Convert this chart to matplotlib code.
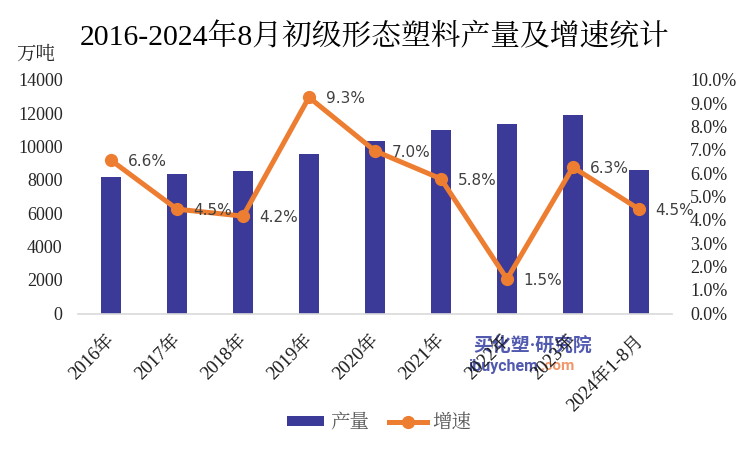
#!/usr/bin/env python3
"""2016-2024年8月 初级形态塑料 产量及增速"""
import matplotlib
matplotlib.use("Agg")
import matplotlib.pyplot as plt
from matplotlib.transforms import ScaledTranslation

SERIF = ["Liberation Serif", "Noto Serif CJK SC", "Noto Sans CJK SC", "DejaVu Serif"]
plt.rcParams["font.family"] = SERIF

years = ["2016年", "2017年", "2018年", "2019年", "2020年", "2021年", "2022年", "2023年", "2024年1-8月"]
output = [8230, 8400, 8600, 9620, 10400, 11050, 11400, 11950, 8650]
growth = [6.6, 4.5, 4.2, 9.3, 7.0, 5.8, 1.5, 6.3, 4.5]
growth_labels = ["6.6%", "4.5%", "4.2%", "9.3%", "7.0%", "5.8%", "1.5%", "6.3%", "4.5%"]

BAR = "#3b3a98"
LINE = "#ed7d31"
TXT = "#404040"

fig = plt.figure(figsize=(7.49, 4.5), dpi=100)
ax = fig.add_axes([78 / 749, 1 - 314 / 450, (672 - 78) / 749, (314 - 81) / 450])
x = list(range(len(years)))
bars = ax.bar(x, output, width=0.31, color=BAR, label="产量")
ax.set_xlim(-0.5, 8.5)
ax.set_ylim(0, 14000)
ax.set_yticks(range(0, 14001, 2000))
ax.tick_params(axis="y", length=0, labelsize=13, labelcolor="#262626", pad=11)
ax.tick_params(axis="x", length=0, labelsize=13.5, labelcolor="#1a1a1a", pad=12)
ax.set_xticks(x)
ax.set_xticklabels(years, rotation=45, ha="right", rotation_mode="anchor")
# 标签整体往左下挪一点
shift = ScaledTranslation(-5 / 100, -1 / 100, fig.dpi_scale_trans)
for lab in ax.get_xticklabels():
    lab.set_transform(lab.get_transform() + shift)
for s in ["top", "left", "right"]:
    ax.spines[s].set_visible(False)
ax.spines["bottom"].set_color("#d9d9d9")
ax.spines["bottom"].set_linewidth(1.2)

ax2 = ax.twinx()
line, = ax2.plot(x, growth, color=LINE, lw=3.6, marker="o", ms=8.5, label="增速")
ax2.set_ylim(0, 10)
ax2.set_yticks(range(0, 11))
ax2.set_yticklabels([f"{v}.0%" for v in range(0, 11)])
ax2.tick_params(axis="y", length=0, labelsize=13, labelcolor="#262626", pad=13)
for s in ["top", "left", "right", "bottom"]:
    ax2.spines[s].set_visible(False)

# y 轴标签上移 1px
up = ScaledTranslation(0, 1 / 100, fig.dpi_scale_trans)
for lab in ax.get_yticklabels() + ax2.get_yticklabels():
    lab.set_transform(lab.get_transform() + up)

for xi, g, lab in zip(x, growth, growth_labels):
    ax2.annotate(lab, (xi, g), xytext=(12, -1), textcoords="offset points", family="DejaVu Sans",
                 fontsize=11, color=TXT, va="center", ha="left")

fig.text(375 / 749, 1 - 37 / 450, "2016-2024年8月初级形态塑料产量及增速统计",
         fontsize=21.4, color="black", ha="center", va="center", fontweight="medium")
fig.text(36 / 749, 1 - 55 / 450, "万吨", fontsize=14, color="#262626", ha="center", va="center")

# 水印, 压在 x 轴标签下面
WM = ["Roboto", "Noto Sans CJK SC"]
fig.text(473 / 749, 1 - 345 / 450, "买化塑·研究院", fontsize=13.6, color="#3f48a8", alpha=0.9,
         ha="left", va="center", style="italic", fontweight="bold", family=WM, zorder=-1)
fig.text(468 / 749, 1 - 366 / 450, "ibuychem", fontsize=11.5, color="#3f48a8", alpha=0.9,
         ha="left", va="center", fontweight="bold", family=WM, zorder=-1)
fig.text(540 / 749, 1 - 366 / 450, ".com", fontsize=11, color="#f08a5a", alpha=0.9,
         ha="left", va="center", fontweight="bold", family=WM, zorder=-1)

fig.legend([bars, line], ["产量", "增速"], loc="center", bbox_to_anchor=(379 / 749, 1 - 423 / 450),
           ncol=2, frameon=False, fontsize=14, labelcolor="#595959", handlelength=1.95,
           handleheight=0.45, handletextpad=0.3, columnspacing=1.0)

fig.savefig("out.png", dpi=100)
